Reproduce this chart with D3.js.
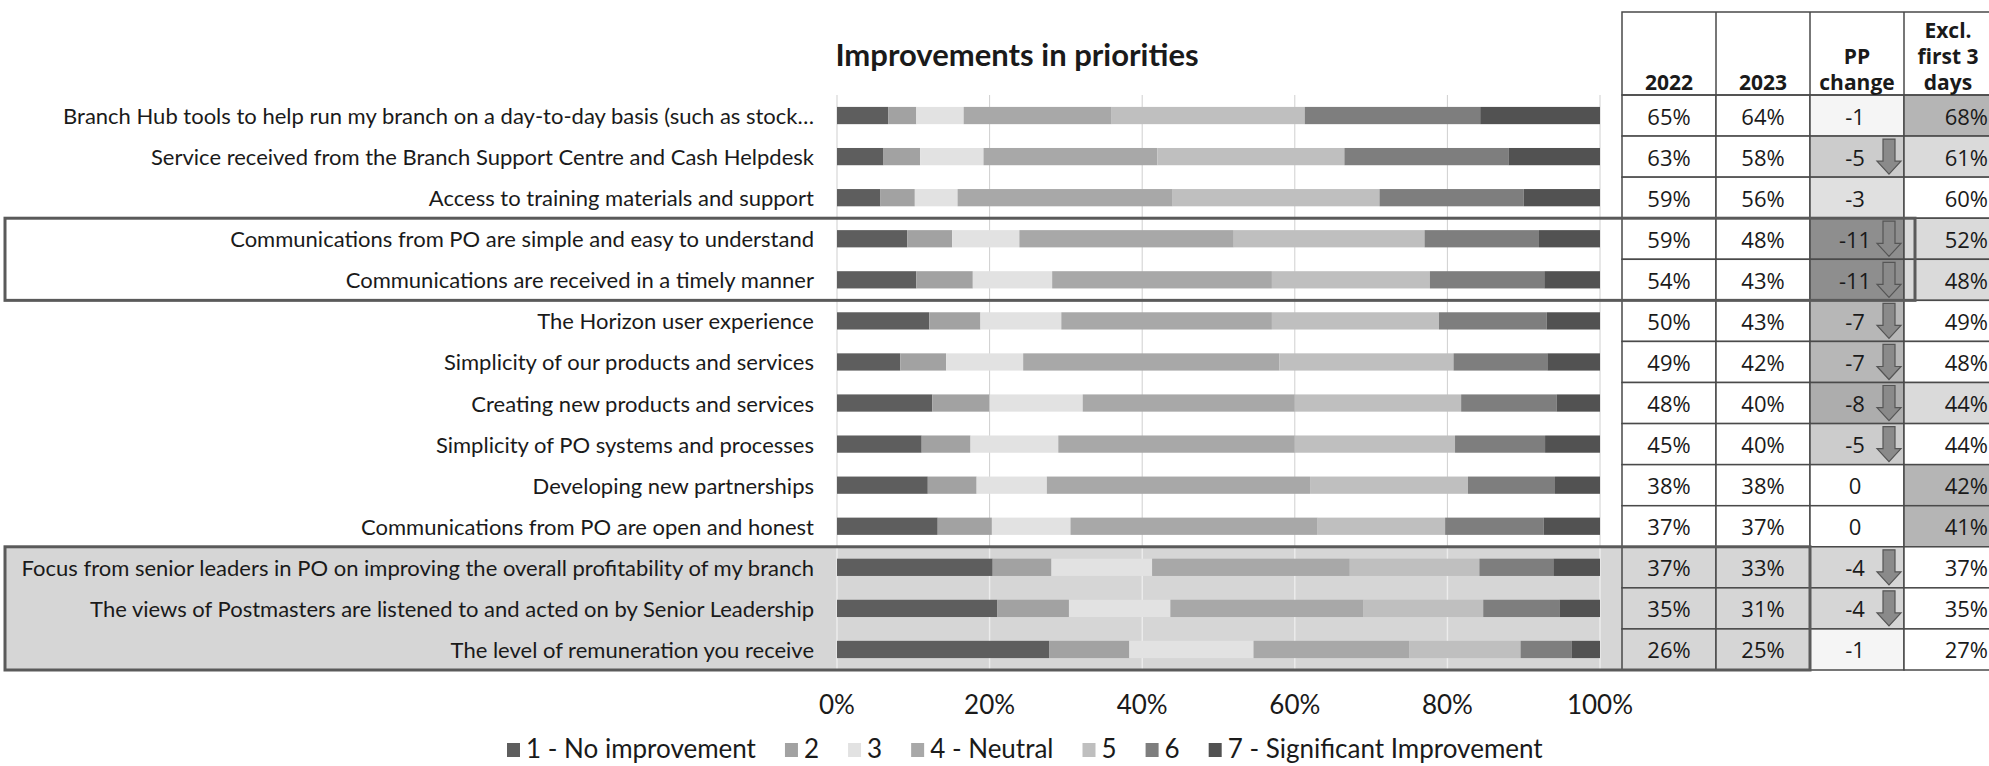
<!DOCTYPE html>
<html>
<head>
<meta charset="utf-8">
<script src="https://cdn.jsdelivr.net/npm/d3@7"></script>
<style>
  body { margin: 0; background: #fff; }
  svg { display: block; }
  text { fill: #1a1a1a; }
</style>
</head>
<body>
<div id="chart"></div>
<script>
const categories = [
  "Branch Hub tools to help run my branch on a day-to-day basis (such as stock\u2026",
  "Service received from the Branch Support Centre and Cash Helpdesk",
  "Access to training materials and support",
  "Communications from PO are simple and easy to understand",
  "Communications are received in a timely manner",
  "The Horizon user experience",
  "Simplicity of our products and services",
  "Creating new products and services",
  "Simplicity of PO systems and processes",
  "Developing new partnerships",
  "Communications from PO are open and honest",
  "Focus from senior leaders in PO on improving the overall profitability of my branch",
  "The views of Postmasters are listened to and acted on by Senior Leadership",
  "The level of remuneration you receive"
]
const levels = ["1 - No improvement", "2", "3", "4 - Neutral", "5", "6", "7 - Significant Improvement"]

// share of answers per level, %
const lvl1 = [6.7, 6.1, 5.7, 9.2, 10.4, 12.1, 8.3, 12.5, 11.1, 11.9, 13.2, 20.4, 21.0, 27.8]
const lvl2 = [3.7, 4.8, 4.5, 5.9, 7.4, 6.7, 6.0, 7.5, 6.4, 6.4, 7.1, 7.7, 9.4, 10.5]
const lvl3 = [6.2, 8.3, 5.6, 8.8, 10.4, 10.6, 10.1, 12.2, 11.5, 9.2, 10.3, 13.2, 13.3, 16.3]
const lvl4 = [19.4, 22.8, 28.2, 28.1, 28.8, 27.6, 33.6, 27.8, 31.0, 34.5, 32.4, 25.9, 25.3, 20.4]
const lvl5 = [25.3, 24.5, 27.1, 25.0, 20.7, 21.9, 22.8, 21.8, 21.0, 20.7, 16.7, 17.0, 15.7, 14.6]
const lvl6 = [23.0, 21.5, 18.9, 15.0, 15.0, 14.1, 12.3, 12.5, 11.8, 11.4, 12.9, 9.7, 10.0, 6.7]
const lvl7 = [15.7, 12.0, 10.0, 8.0, 7.3, 7.0, 6.9, 5.7, 7.2, 5.9, 7.4, 6.1, 5.3, 3.7]

// table columns
const y2022 = [65, 63, 59, 59, 54, 50, 49, 48, 45, 38, 37, 37, 35, 26]
const y2023 = [64, 58, 56, 48, 43, 43, 42, 40, 40, 38, 37, 33, 31, 25]
const ppChange = [-1, -5, -3, -11, -11, -7, -7, -8, -5, 0, 0, -4, -4, -1]
const exclFirst3 = [68, 61, 60, 52, 48, 49, 48, 44, 44, 42, 41, 37, 35, 27]
const xTicks = [0, 20, 40, 60, 80, 100]

const W = 1989, H = 766
const colors = ["#5e5e5e", "#a2a2a2", "#e2e2e2", "#a8a8a8", "#bfbfbf", "#7e7e7e", "#525252"]
const labelFont = "Lato, 'Open Sans', sans-serif"

const rows = categories.map((c, i) => {
  const r = { cat: c }
  ;[lvl1, lvl2, lvl3, lvl4, lvl5, lvl6, lvl7].forEach((arr, k) => r[levels[k]] = arr[i])
  return r
})
const series = d3.stack().keys(levels)(rows)

const x = d3.scaleLinear().domain([0, 100]).range([837, 1600])
const y = d3.scaleBand().domain(categories).range([95, 670]).paddingInner(0.58).paddingOuter(0.29)
const step = y.step()
const rowTop = i => 95 + i * step

const svg = d3.select('#chart').append('svg').attr('width', W).attr('height', H)

// grey highlight box (bottom three rows)
svg.append('rect').attr('x', 5).attr('y', rowTop(11)).attr('width', 1810 - 5).attr('height', rowTop(14) - rowTop(11))
  .attr('fill', '#d6d6d6')

// gridlines
svg.append('g').selectAll('line').data(xTicks).join('line')
  .attr('x1', d => x(d)).attr('x2', d => x(d)).attr('y1', 95).attr('y2', 670)
  .attr('stroke', '#cfcfcf').attr('stroke-width', 1)
svg.append('g').selectAll('line').data(xTicks).join('line')
  .attr('x1', d => x(d)).attr('x2', d => x(d)).attr('y1', rowTop(11)).attr('y2', 670)
  .attr('stroke', '#ececec').attr('stroke-width', 1.5)

// bars
svg.append('g').selectAll('g').data(series).join('g')
  .attr('fill', (d, i) => colors[i])
  .selectAll('rect').data(d => d).join('rect')
  .attr('x', d => x(d[0])).attr('width', d => x(d[1]) - x(d[0]))
  .attr('y', d => y(d.data.cat)).attr('height', y.bandwidth())

// category labels
svg.append('g').selectAll('text').data(categories).join('text')
  .attr('x', 814).attr('y', d => y(d) + y.bandwidth() / 2)
  .attr('text-anchor', 'end').attr('dominant-baseline', 'central')
  .style('font-family', labelFont).style('font-size', '22px')
  .text(d => d)

// title
svg.append('text').attr('x', 1017).attr('y', 66).attr('text-anchor', 'middle')
  .style('font-family', labelFont).style('font-weight', 700).style('font-size', '31px')
  .text('Improvements in priorities')

// x axis labels
svg.append('g').selectAll('text').data(xTicks).join('text')
  .attr('x', d => x(d)).attr('y', 704).attr('text-anchor', 'middle').attr('dominant-baseline', 'central')
  .style('font-family', labelFont).style('font-size', '26px')
  .text(d => d + '%')

// table
const cols = [1622, 1716, 1810, 1904, 1998]
const tbl = svg.append('g')
const changeShade = d3.scaleLinear().domain([0, -11]).range(['#ffffff', '#8e8e8e'])
const exclShade = (e, a) => e - a >= 2 ? '#b5b5b5' : (e - a <= -2 ? '#dadada' : '#ffffff')

categories.forEach((c, i) => {
  const t = rowTop(i)
  const cells = [
    { v: y2022[i] + '%', fill: i >= 11 ? '#d6d6d6' : '#fff' },
    { v: y2023[i] + '%', fill: i >= 11 ? '#d6d6d6' : '#fff' },
    { v: String(ppChange[i]), fill: changeShade(ppChange[i]) },
    { v: exclFirst3[i] + '%', fill: exclShade(exclFirst3[i], y2022[i]) }
  ]
  cells.forEach((cell, k) => {
    tbl.append('rect').attr('x', cols[k]).attr('y', t).attr('width', cols[k + 1] - cols[k]).attr('height', step)
      .attr('fill', cell.fill).attr('stroke', '#4a4a4a').attr('stroke-width', 1.5)
    tbl.append('text')
      .attr('x', k === 3 ? 1988 : (cols[k] + cols[k + 1]) / 2 - (k === 2 ? 2 : 0))
      .attr('y', t + step / 2).attr('text-anchor', k === 3 ? 'end' : 'middle').attr('dominant-baseline', 'central')
      .style('font-family', "'Open Sans', sans-serif").style('font-size', '22px')
      .text(cell.v)
  })
  if (ppChange[i] <= -4) {
    const cx = 1889, top = t + 3, bot = t + step - 3, hh = 13
    const p = d3.path()
    p.moveTo(cx - 6, top); p.lineTo(cx + 6, top); p.lineTo(cx + 6, bot - hh); p.lineTo(cx + 12, bot - hh)
    p.lineTo(cx, bot); p.lineTo(cx - 12, bot - hh); p.lineTo(cx - 6, bot - hh); p.closePath()
    tbl.append('path').attr('d', p.toString()).attr('fill', '#8a8a8a').attr('stroke', '#555').attr('stroke-width', 1.2)
  }
})

// header
tbl.append('rect').attr('x', cols[0]).attr('y', 12).attr('width', cols[4] - cols[0]).attr('height', 95 - 12)
  .attr('fill', 'none').attr('stroke', '#4a4a4a').attr('stroke-width', 1.5)
cols.slice(1, 4).forEach(cx => tbl.append('line').attr('x1', cx).attr('x2', cx).attr('y1', 12).attr('y2', 95)
  .attr('stroke', '#4a4a4a').attr('stroke-width', 1.5))
const headers = [['2022'], ['2023'], ['PP', 'change'], ['Excl.', 'first 3', 'days']]
headers.forEach((lines, k) => {
  lines.forEach((s, j) => {
    tbl.append('text').attr('x', (cols[k] + cols[k + 1]) / 2 + (k === 3 ? -3 : 0))
      .attr('y', 82 - (lines.length - 1 - j) * 26).attr('text-anchor', 'middle').attr('dominant-baseline', 'central')
      .style('font-family', "'Open Sans', sans-serif").style('font-weight', 700).style('font-size', '21px')
      .text(s)
  })
})

// highlight box outlines
svg.append('rect').attr('x', 5).attr('y', rowTop(3)).attr('width', 1915 - 5).attr('height', rowTop(5) - rowTop(3))
  .attr('fill', 'none').attr('stroke', '#5a5a5a').attr('stroke-width', 3)
svg.append('rect').attr('x', 5).attr('y', rowTop(11)).attr('width', 1810 - 5).attr('height', rowTop(14) - rowTop(11))
  .attr('fill', 'none').attr('stroke', '#5a5a5a').attr('stroke-width', 3)

// legend
const leg = svg.append('g')
let lx = 507
levels.forEach((l, i) => {
  leg.append('rect').attr('x', lx).attr('y', 743).attr('width', 13).attr('height', 14).attr('fill', colors[i])
  const t = leg.append('text').attr('x', lx + 19).attr('y', 748).attr('dominant-baseline', 'central')
    .style('font-family', labelFont).style('font-size', '26px').text(l)
  lx += 19 + t.node().getComputedTextLength() + 29
})
</script>
</body>
</html>
